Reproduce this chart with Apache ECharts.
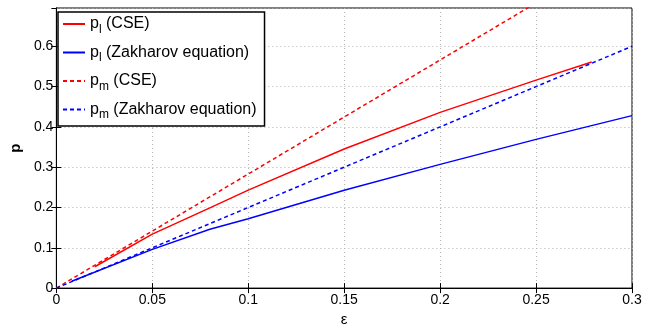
<!DOCTYPE html>
<html>
<head>
<meta charset="utf-8">
<script src="https://cdn.jsdelivr.net/npm/echarts@6/dist/echarts.min.js"></script>
<style>
  html, body { margin: 0; padding: 0; background: #fff; }
  #chart { width: 657px; height: 332px; }
</style>
</head>
<body>
<div id="chart"></div>
<script>
// eps values
var plCseEps = [0.02, 0.05, 0.08, 0.1, 0.15, 0.2, 0.25, 0.279];
var plCse = [0.053, 0.134, 0.199, 0.243, 0.345, 0.436, 0.516, 0.561];
var plZakEps = [0.008, 0.05, 0.08, 0.1, 0.15, 0.2, 0.25, 0.3];
var plZak = [0.017, 0.096, 0.146, 0.172, 0.243, 0.307, 0.369, 0.428];
var pmCseEps = [0, 0.05, 0.1, 0.15, 0.2, 0.25];
var pmCse = [0, 0.1415, 0.283, 0.4245, 0.566, 0.7075];
var pmZakEps = [0, 0.05, 0.1, 0.15, 0.2, 0.25, 0.3];
var pmZak = [0, 0.1, 0.2, 0.3, 0.4, 0.5, 0.6];

function pairs(xs, ys) {
  return xs.map(function (x, i) { return [x, ys[i]]; });
}

var font = 'Liberation Sans';
var gridLine = { show: true, lineStyle: { color: '#b4b4b4', type: [1, 3], width: 1 } };
var tick = { show: true, inside: true, length: 5, lineStyle: { color: '#000' } };

var myChart = echarts.init(document.getElementById('chart'));
var option = {
  animation: false,
  textStyle: { fontFamily: font },
  grid: { left: 55, right: 25, top: 8, bottom: 35, show: true, borderColor: '#000', borderWidth: 1 },
  legend: {
    orient: 'vertical',
    left: 58,
    top: 12,
    padding: [4, 8, 5, 4],
    itemGap: 9,
    itemWidth: 22,
    itemHeight: 18,
    backgroundColor: '#fff',
    borderColor: '#000',
    borderWidth: 1.5,
    borderRadius: 0,
    itemStyle: { opacity: 0 },
    textStyle: {
      fontFamily: font,
      fontSize: 16,
      color: '#000',
      rich: {
        p: { fontSize: 16, fontFamily: font, color: '#000' },
        s: { fontSize: 12, fontFamily: font, color: '#000', verticalAlign: 'bottom', padding: [11, 0, 0, 0] }
      }
    },
    formatter: function (name) {
      var parts = name.split('|');
      return '{p|p}{s|' + parts[0] + '}{p| ' + parts[1] + '}';
    },
    data: ['l|(CSE)', 'l|(Zakharov equation)', 'm|(CSE)', 'm|(Zakharov equation)']
  },
  xAxis: [{
    type: 'value',
    min: 0,
    max: 0.3,
    interval: 0.05,
    name: 'ε',
    nameLocation: 'middle',
    nameGap: 20,
    nameTextStyle: { fontSize: 15, color: '#000', fontFamily: font },
    axisLine: { lineStyle: { color: '#000' } },
    axisTick: tick,
    axisLabel: { color: '#000', fontSize: 14, margin: 5, formatter: function (v) { return String(+v.toFixed(2)); } },
    splitLine: gridLine
  }, {
    type: 'value',
    position: 'top',
    min: 0,
    max: 0.3,
    interval: 0.05,
    axisLine: { lineStyle: { color: '#000' } },
    axisTick: tick,
    axisLabel: { show: false },
    splitLine: { show: false }
  }],
  yAxis: [{
    type: 'value',
    min: 0,
    max: 0.695,
    interval: 0.1,
    name: 'p',
    nameLocation: 'middle',
    nameGap: 27,
    nameTextStyle: { fontSize: 15, fontWeight: 'bold', color: '#000', fontFamily: font },
    axisLine: { lineStyle: { color: '#000' } },
    axisTick: tick,
    axisLabel: { color: '#000', fontSize: 14, margin: 3, showMaxLabel: false, formatter: function (v) { return String(+v.toFixed(1)); } },
    splitLine: gridLine
  }, {
    type: 'value',
    position: 'right',
    min: 0,
    max: 0.695,
    interval: 0.1,
    axisLine: { show: true, lineStyle: { color: '#000' } },
    axisTick: tick,
    axisLabel: { show: false },
    splitLine: { show: false }
  }],
  series: [{
    name: 'l|(CSE)',
    type: 'line',
    symbol: 'none',
    lineStyle: { color: '#ff0000', width: 1.5 },
    itemStyle: { color: '#ff0000' },
    data: pairs(plCseEps, plCse)
  }, {
    name: 'l|(Zakharov equation)',
    type: 'line',
    symbol: 'none',
    lineStyle: { color: '#0000ff', width: 1.5 },
    itemStyle: { color: '#0000ff' },
    data: pairs(plZakEps, plZak)
  }, {
    name: 'm|(CSE)',
    type: 'line',
    symbol: 'none',
    lineStyle: { color: '#ff0000', width: 1.5, type: [4, 3] },
    itemStyle: { color: '#ff0000' },
    data: pairs(pmCseEps, pmCse)
  }, {
    name: 'm|(Zakharov equation)',
    type: 'line',
    symbol: 'none',
    lineStyle: { color: '#0000ff', width: 1.5, type: [4, 3] },
    itemStyle: { color: '#0000ff' },
    data: pairs(pmZakEps, pmZak)
  }]
};
myChart.setOption(option);
</script>
</body>
</html>
